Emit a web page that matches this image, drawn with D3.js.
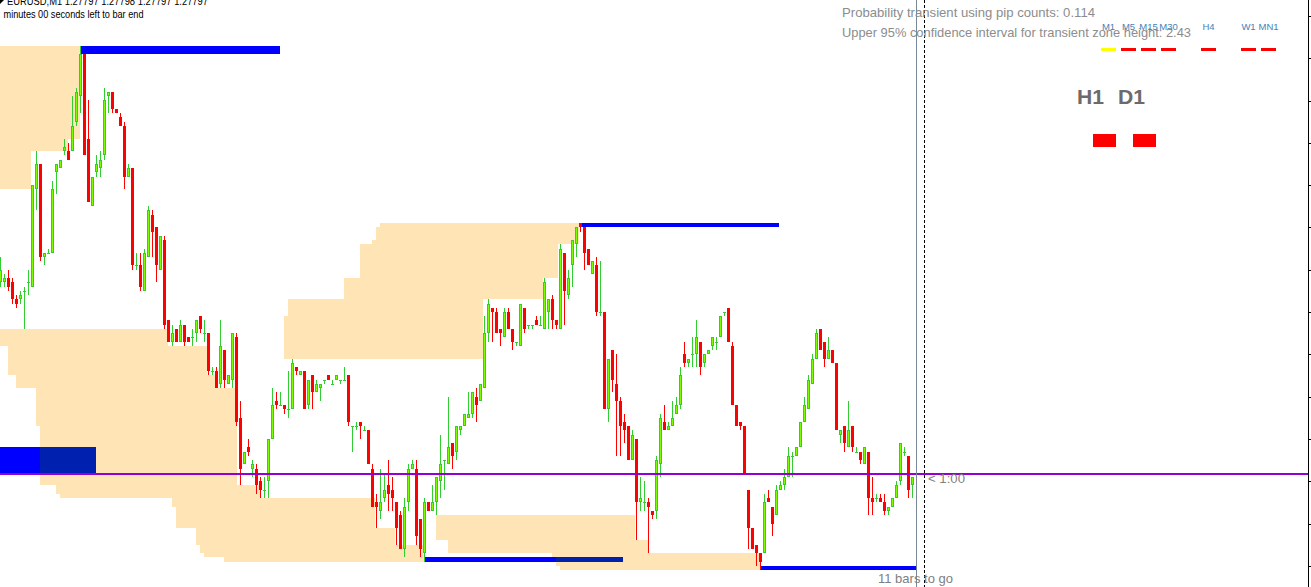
<!DOCTYPE html>
<html><head><meta charset="utf-8">
<script src="https://cdn.jsdelivr.net/npm/d3@7"></script>
<style>html,body{margin:0;padding:0;background:#fff;overflow:hidden}svg{display:block}</style>
</head><body>
<svg id="chart" width="1311" height="587"></svg>
<script>
// ---- EURUSD M1 candles (index 0 = leftmost bar) ----
const openP = [1.27842,1.27842,1.27843,1.27842,1.27838,1.27838,1.27840,1.27842,1.27841,1.27864,
1.27870,1.27848,1.27849,1.27849,1.27868,1.27869,1.27873,1.27873,1.27873,1.27880,
1.27886,1.27896,1.27876,1.27860,1.27868,1.27869,1.27872,1.27886,1.27887,1.27883,
1.27881,1.27879,1.27867,1.27869,1.27846,1.27846,1.27840,1.27848,1.27858,1.27855,
1.27845,1.27852,1.27833,1.27828,1.27831,1.27828,1.27832,1.27829,1.27829,1.27830,
1.27834,1.27830,1.27830,1.27821,1.27821,1.27818,1.27826,1.27818,1.27819,1.27829,
1.27810,1.27799,1.27803,1.27798,1.27798,1.27795,1.27793,1.27795,1.27805,1.27814,
1.27813,1.27813,1.27812,1.27812,1.27822,1.27820,1.27821,1.27813,1.27820,1.27816,
1.27817,1.27819,1.27820,1.27818,1.27819,1.27819,1.27819,1.27820,1.27808,1.27808,
1.27809,1.27807,1.27807,1.27798,1.27790,1.27788,1.27791,1.27794,1.27793,1.27790,
1.27787,1.27779,1.27790,1.27798,1.27798,1.27786,1.27778,1.27790,1.27788,1.27790,
1.27795,1.27800,1.27799,1.27804,1.27802,1.27807,1.27808,1.27810,1.27811,1.27815,
1.27814,1.27817,1.27830,1.27836,1.27835,1.27831,1.27829,1.27835,1.27831,1.27828,
1.27827,1.27836,1.27832,1.27832,1.27833,1.27832,1.27831,1.27835,1.27838,1.27833,
1.27831,1.27849,1.27839,1.27846,1.27851,1.27856,1.27855,1.27850,1.27844,1.27846,
1.27835,1.27835,1.27812,1.27826,1.27818,1.27814,1.27809,1.27808,1.27800,1.27805,
1.27790,1.27790,1.27790,1.27788,1.27788,1.27799,1.27809,1.27807,1.27808,1.27811,
1.27813,1.27825,1.27823,1.27825,1.27825,1.27828,1.27823,1.27825,1.27827,1.27828,
1.27829,1.27835,1.27836,1.27827,1.27813,1.27809,1.27808,1.27793,1.27784,1.27780,
1.27778,1.27778,1.27791,1.27789,1.27787,1.27793,1.27794,1.27796,1.27801,1.27801,
1.27803,1.27809,1.27812,1.27818,1.27824,1.27831,1.27828,1.27824,1.27826,1.27823,
1.27806,1.27808,1.27803,1.27808,1.27802,1.27802,1.27799,1.27802,1.27791,1.27791,
1.27791,1.27790,1.27788,1.27789,1.27791,1.27795,1.27802,1.27801,1.27794,1.27797];
const highP = [1.27848,1.27844,1.27845,1.27843,1.27839,1.27840,1.27841,1.27845,1.27865,1.27873,
1.27870,1.27849,1.27850,1.27866,1.27870,1.27871,1.27876,1.27875,1.27886,1.27888,
1.27898,1.27896,1.27885,1.27867,1.27872,1.27873,1.27888,1.27887,1.27887,1.27883,
1.27882,1.27880,1.27870,1.27869,1.27849,1.27849,1.27850,1.27860,1.27859,1.27855,
1.27853,1.27853,1.27833,1.27832,1.27831,1.27833,1.27832,1.27829,1.27831,1.27833,
1.27834,1.27833,1.27830,1.27822,1.27822,1.27833,1.27826,1.27820,1.27830,1.27830,
1.27814,1.27802,1.27805,1.27800,1.27799,1.27796,1.27796,1.27805,1.27817,1.27816,
1.27816,1.27813,1.27821,1.27824,1.27822,1.27821,1.27821,1.27819,1.27820,1.27819,
1.27818,1.27819,1.27820,1.27819,1.27820,1.27819,1.27822,1.27820,1.27808,1.27809,
1.27809,1.27808,1.27807,1.27799,1.27792,1.27798,1.27797,1.27800,1.27796,1.27790,
1.27788,1.27791,1.27799,1.27800,1.27800,1.27786,1.27791,1.27790,1.27794,1.27796,
1.27806,1.27800,1.27815,1.27804,1.27808,1.27808,1.27811,1.27816,1.27816,1.27817,
1.27818,1.27834,1.27838,1.27836,1.27836,1.27831,1.27836,1.27836,1.27831,1.27828,
1.27837,1.27836,1.27832,1.27832,1.27834,1.27834,1.27843,1.27838,1.27839,1.27833,
1.27851,1.27849,1.27845,1.27852,1.27855,1.27856,1.27855,1.27850,1.27847,1.27848,
1.27847,1.27835,1.27824,1.27826,1.27825,1.27815,1.27811,1.27808,1.27807,1.27805,
1.27796,1.27795,1.27791,1.27788,1.27801,1.27811,1.27813,1.27809,1.27814,1.27815,
1.27822,1.27828,1.27824,1.27829,1.27833,1.27828,1.27825,1.27826,1.27829,1.27829,
1.27834,1.27835,1.27836,1.27828,1.27813,1.27809,1.27808,1.27793,1.27784,1.27780,
1.27778,1.27792,1.27793,1.27789,1.27794,1.27795,1.27798,1.27803,1.27802,1.27803,
1.27809,1.27815,1.27820,1.27825,1.27831,1.27831,1.27828,1.27829,1.27826,1.27823,
1.27807,1.27808,1.27814,1.27808,1.27803,1.27802,1.27803,1.27802,1.27796,1.27792,
1.27792,1.27792,1.27789,1.27791,1.27795,1.27804,1.27803,1.27801,1.27796,1.27798];
const lowP = [1.27841,1.27841,1.27840,1.27837,1.27836,1.27837,1.27831,1.27839,1.27841,1.27859,
1.27847,1.27846,1.27849,1.27849,1.27863,1.27869,1.27872,1.27871,1.27873,1.27879,
1.27882,1.27872,1.27861,1.27860,1.27867,1.27867,1.27871,1.27882,1.27882,1.27882,
1.27879,1.27864,1.27867,1.27845,1.27845,1.27840,1.27840,1.27848,1.27848,1.27842,
1.27845,1.27831,1.27828,1.27827,1.27828,1.27828,1.27827,1.27828,1.27827,1.27828,
1.27830,1.27828,1.27820,1.27820,1.27817,1.27817,1.27817,1.27818,1.27817,1.27808,
1.27794,1.27799,1.27801,1.27796,1.27792,1.27791,1.27791,1.27791,1.27805,1.27812,
1.27813,1.27811,1.27810,1.27812,1.27820,1.27820,1.27812,1.27812,1.27812,1.27816,
1.27814,1.27818,1.27819,1.27818,1.27819,1.27818,1.27819,1.27808,1.27802,1.27807,
1.27805,1.27807,1.27799,1.27789,1.27784,1.27786,1.27790,1.27788,1.27788,1.27780,
1.27779,1.27777,1.27788,1.27798,1.27780,1.27777,1.27776,1.27788,1.27788,1.27787,
1.27791,1.27793,1.27799,1.27798,1.27800,1.27806,1.27808,1.27810,1.27810,1.27809,
1.27814,1.27817,1.27828,1.27828,1.27830,1.27827,1.27829,1.27831,1.27826,1.27827,
1.27827,1.27830,1.27831,1.27831,1.27832,1.27832,1.27831,1.27831,1.27831,1.27831,
1.27831,1.27832,1.27838,1.27841,1.27848,1.27854,1.27845,1.27846,1.27844,1.27834,
1.27834,1.27812,1.27809,1.27816,1.27801,1.27801,1.27804,1.27800,1.27800,1.27781,
1.27788,1.27788,1.27778,1.27786,1.27786,1.27796,1.27807,1.27807,1.27808,1.27811,
1.27812,1.27822,1.27822,1.27822,1.27822,1.27820,1.27822,1.27825,1.27826,1.27826,
1.27829,1.27834,1.27828,1.27813,1.27808,1.27807,1.27797,1.27779,1.27779,1.27775,
1.27774,1.27778,1.27790,1.27782,1.27787,1.27793,1.27793,1.27796,1.27796,1.27801,
1.27803,1.27809,1.27812,1.27818,1.27824,1.27826,1.27822,1.27824,1.27823,1.27807,
1.27804,1.27802,1.27803,1.27802,1.27802,1.27799,1.27799,1.27787,1.27787,1.27790,
1.27790,1.27787,1.27787,1.27789,1.27791,1.27794,1.27801,1.27791,1.27791,1.27797];
const closeP = [1.27845,1.27843,1.27841,1.27838,1.27837,1.27839,1.27840,1.27842,1.27865,1.27870,
1.27848,1.27849,1.27849,1.27864,1.27870,1.27871,1.27874,1.27871,1.27879,1.27887,
1.27896,1.27872,1.27861,1.27867,1.27870,1.27871,1.27885,1.27887,1.27883,1.27882,
1.27879,1.27867,1.27869,1.27846,1.27846,1.27841,1.27849,1.27859,1.27854,1.27846,
1.27853,1.27832,1.27828,1.27830,1.27828,1.27832,1.27828,1.27828,1.27829,1.27833,
1.27831,1.27830,1.27821,1.27821,1.27817,1.27827,1.27819,1.27820,1.27830,1.27809,
1.27798,1.27802,1.27802,1.27799,1.27794,1.27793,1.27793,1.27805,1.27813,1.27813,
1.27813,1.27812,1.27812,1.27823,1.27821,1.27821,1.27812,1.27819,1.27816,1.27818,
1.27818,1.27819,1.27819,1.27818,1.27820,1.27819,1.27819,1.27809,1.27808,1.27808,
1.27808,1.27807,1.27799,1.27789,1.27789,1.27790,1.27793,1.27792,1.27791,1.27784,
1.27779,1.27789,1.27798,1.27799,1.27782,1.27779,1.27790,1.27788,1.27790,1.27796,
1.27799,1.27800,1.27803,1.27801,1.27808,1.27808,1.27811,1.27811,1.27816,1.27813,
1.27818,1.27830,1.27837,1.27835,1.27830,1.27830,1.27835,1.27831,1.27828,1.27828,
1.27837,1.27831,1.27832,1.27832,1.27832,1.27832,1.27842,1.27838,1.27833,1.27832,
1.27850,1.27840,1.27843,1.27852,1.27855,1.27855,1.27849,1.27846,1.27847,1.27835,
1.27835,1.27812,1.27824,1.27819,1.27814,1.27808,1.27807,1.27800,1.27806,1.27790,
1.27791,1.27790,1.27789,1.27787,1.27800,1.27810,1.27807,1.27808,1.27810,1.27813,
1.27820,1.27823,1.27824,1.27825,1.27829,1.27822,1.27825,1.27826,1.27829,1.27828,
1.27834,1.27835,1.27828,1.27813,1.27808,1.27808,1.27797,1.27784,1.27779,1.27778,
1.27776,1.27790,1.27790,1.27785,1.27793,1.27794,1.27796,1.27801,1.27801,1.27803,
1.27809,1.27813,1.27819,1.27824,1.27830,1.27826,1.27824,1.27826,1.27823,1.27807,
1.27807,1.27804,1.27807,1.27803,1.27802,1.27800,1.27803,1.27791,1.27790,1.27791,
1.27790,1.27788,1.27789,1.27791,1.27794,1.27804,1.27802,1.27793,1.27796,1.27797];

const priceTicks = [1.27775,1.27785,1.27795,1.27805,1.27815,1.27825,1.27835,1.27845,1.27855,1.27865,1.27875,1.27885,1.27895,1.27905];
const currentPrice = 1.27797;
const lastBar = 229;

// supply/demand zone steps: [fromBar, toBar, upperPrice, lowerPrice]
const zoneBands = [
  [0,20,1.27898,1.27876],[0,17,1.27876,1.27873],[0,7.75,1.27873,1.27864],
  [0,42,1.27831,1.27827],[2,51.75,1.27827,1.27820],[4,53.75,1.27820,1.27817],
  [9,59.25,1.27817,1.27808],[10,59.25,1.27808,1.27794],[14,65,1.27794,1.27792],
  [15,65,1.27792,1.27791],[43,93.75,1.27791,1.27789],[44,93.75,1.27789,1.27784],
  [49,98.75,1.27784,1.27780],[50,106.25,1.27780,1.27778],[51,106.25,1.27778,1.27777],
  [56,106.25,1.27777,1.27776],
  [109,158.75,1.27787,1.27781],[112,162,1.27781,1.27778],[138,190,1.27778,1.27777],
  [139,190,1.27777,1.27775],[140,190,1.27775,1.27774],
  [95,144.75,1.27856,1.27855],[94,144.75,1.27855,1.27852],[93,144.75,1.27852,1.27851],
  [90,139.5,1.27851,1.27843],[86,135.75,1.27843,1.27838],[72,120.75,1.27838,1.27834],
  [71,120.75,1.27834,1.27824]
];
// extreme-level bars and block: [fromBar, toBar, upperPrice, lowerPrice]
const levelBars = [
  [20.25,70,1.27898,1.27896],[145.25,194.75,1.27856,1.27855],
  [106.25,155.75,1.27777,1.27776],[190,229,1.27775,1.27774],
  [0,24,1.27803,1.27797]
];
const timeframes = ["M1","M5","M15","M30","H1","H4","D1","W1","MN1"];
const tfColors = ["#ffff00","#ff0000","#ff0000","#ff0000",null,"#ff0000",null,"#ff0000","#ff0000"];
const bigFrames = ["H1","D1"];
const infoLines = ["Probability transient using pip counts: 0.114","Upper 95% confidence interval for transient zone height: 2.43"];

const W = 1311, H = 587;
const svg = d3.select("#chart");
const x = d3.scaleLinear().domain([0, lastBar]).range([0, 916]);
const y = d3.scaleLinear().domain([1.27775, 1.27905]).range([565.8, 15.9]);
const font = "'Liberation Sans', Arial, sans-serif";

svg.append("rect").attr("width", W).attr("height", H).attr("fill", "#fff");

// zones
const gz = svg.append("g").attr("shape-rendering", "crispEdges");
gz.selectAll("rect").data(zoneBands).join("rect")
  .attr("x", d => x(d[0])).attr("width", d => x(d[1]) - x(d[0]))
  .attr("y", d => y(d[2])).attr("height", d => y(d[3]) - y(d[2]))
  .attr("fill", "#ffe4b5");

// blue level bars
const gb = svg.append("g").attr("shape-rendering", "crispEdges");
gb.selectAll("rect").data(levelBars).join("rect")
  .attr("x", d => x(d[0])).attr("width", d => x(d[1]) - x(d[0]))
  .attr("y", d => y(d[2])).attr("height", d => Math.max(1, y(d[3]) - y(d[2])))
  .attr("fill", "#0000ff");
// overlap of blue with zones drawn darker
const overlaps = [];
levelBars.forEach(b => zoneBands.forEach(z => {
  const x0 = Math.max(b[0], z[0]), x1 = Math.min(b[1], z[1]);
  const hi = Math.min(b[2], z[2]), lo = Math.max(b[3], z[3]);
  if (x1 - x0 > 0.1 && hi - lo > 0.0000001) overlaps.push([x0, x1, hi, lo]);
}));
gb.selectAll("rect.ov").data(overlaps).join("rect").attr("class", "ov")
  .attr("x", d => x(d[0])).attr("width", d => x(d[1]) - x(d[0]))
  .attr("y", d => y(d[2])).attr("height", d => y(d[3]) - y(d[2]))
  .attr("fill", "#0020b0");

// candles
const bars = d3.range(openP.length).map(i => ({i, o: openP[i], h: highP[i], l: lowP[i], c: closeP[i]}));
const GREEN = "#32cd32", LIGHT = "#7cfc00", RED = "#ff0000";
const gc = svg.append("g").attr("shape-rendering", "crispEdges");
gc.selectAll("rect.wick").data(bars).join("rect").attr("class", "wick")
  .attr("x", d => x(d.i)).attr("width", 1)
  .attr("y", d => Math.round(y(d.h))).attr("height", d => Math.max(1, Math.round(y(d.l)) - Math.round(y(d.h))))
  .attr("fill", d => d.c < d.o ? RED : GREEN);
gc.selectAll("rect.body").data(bars).join("rect").attr("class", "body")
  .attr("x", d => x(d.i) - 1).attr("width", 3)
  .attr("y", d => Math.round(y(Math.max(d.o, d.c))))
  .attr("height", d => Math.max(1, Math.round(y(Math.min(d.o, d.c))) - Math.round(y(Math.max(d.o, d.c)))))
  .attr("fill", d => d.c < d.o ? RED : GREEN);
const bulls = bars.filter(d => d.c > d.o && (Math.round(y(d.o)) - Math.round(y(d.c))) > 2);
gc.selectAll("rect.core").data(bulls).join("rect").attr("class", "core")
  .attr("x", d => x(d.i)).attr("width", 1)
  .attr("y", d => Math.round(y(d.c)) + 1)
  .attr("height", d => Math.round(y(d.o)) - Math.round(y(d.c)) - 2)
  .attr("fill", LIGHT);

// current price line
const yc = Math.round(y(currentPrice));
svg.append("rect").attr("x", 0).attr("width", 1308).attr("y", yc).attr("height", 1.5)
  .attr("fill", "#9400d3").attr("shape-rendering", "crispEdges");

// vertical lines
svg.append("line").attr("x1", x(lastBar) + 0.5).attr("x2", x(lastBar) + 0.5).attr("y1", 0).attr("y2", H)
  .attr("stroke", "#778899").attr("stroke-width", 1).attr("shape-rendering", "crispEdges");
svg.append("line").attr("x1", x(lastBar + 2) + 0.5).attr("x2", x(lastBar + 2) + 0.5).attr("y1", 0).attr("y2", H)
  .attr("stroke", "#000").attr("stroke-width", 1).attr("stroke-dasharray", "3,2").attr("shape-rendering", "crispEdges");

// right price axis
const axis = d3.axisRight(y).tickValues(priceTicks).tickSize(3).tickFormat("");
const ga = svg.append("g").attr("transform", "translate(1308.5,0)").call(axis);
ga.select(".domain").remove();
ga.selectAll("line").attr("stroke", "#000").attr("shape-rendering", "crispEdges");
svg.append("line").attr("x1", 1308.5).attr("x2", 1308.5).attr("y1", 0).attr("y2", H)
  .attr("stroke", "#000").attr("stroke-width", 1).attr("shape-rendering", "crispEdges");

// texts
function txt(s, px, py, size, color, len, extra) {
  const t = svg.append("text").attr("x", px).attr("y", py).text(s)
    .attr("font-family", font).attr("font-size", size).attr("fill", color);
  if (len) t.attr("textLength", len).attr("lengthAdjust", "spacingAndGlyphs");
  if (extra) extra(t);
  return t;
}
svg.append("path").attr("d", "M0,0L4,0L0,4Z").attr("fill", "#000");
txt("EURUSD,M1  1.27797 1.27798 1.27797 1.27797", 7, 5, 10.5, "#000", 201);
txt("minutes 00 seconds left to bar end", 3.5, 17.5, 10, "#000", 140);
txt(infoLines[0], 842, 17.3, 13, "#8c8c8c", 253);
txt(infoLines[1], 842, 36.7, 13, "#8c8c8c", 349);

const tfx = d3.scalePoint().domain(timeframes).range([1108.5, 1268.5]);
timeframes.forEach((tf, k) => {
  if (!tfColors[k]) return;
  txt(tf, tfx(tf), 30, 9.5, "#4682b4", null, t => t.attr("text-anchor", "middle"));
  svg.append("rect").attr("x", tfx(tf) - 7.5).attr("y", 47.5).attr("width", 15).attr("height", 3.5)
    .attr("fill", tfColors[k]).attr("shape-rendering", "crispEdges");
});
const bigX = [1077, 1118], boxX = [1093, 1133];
bigFrames.forEach((tf, k) => {
  txt(tf, bigX[k], 103.5, 20, "#6b6b6b", 27, t => t.attr("font-weight", "bold"));
  svg.append("rect").attr("x", boxX[k]).attr("y", 134).attr("width", 23).attr("height", 13)
    .attr("fill", "#ff0000").attr("shape-rendering", "crispEdges");
});
txt("< 1:00", 928, 483, 12, "#808080", 37);
txt("11 bars to go", 878, 583.3, 13, "#808080", 75);
</script>
</body></html>
